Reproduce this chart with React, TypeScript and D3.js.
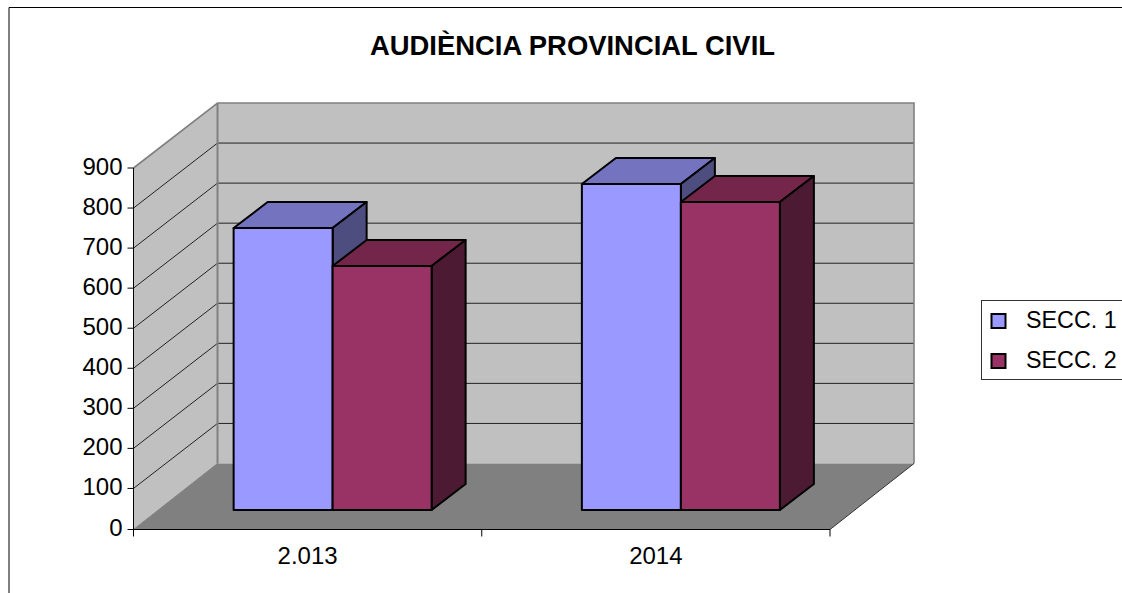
import React from "react";
import * as d3 from "d3";

const title = "AUDIÈNCIA PROVINCIAL CIVIL";
const categories = ["2.013", "2014"];
const seriesNames = ["SECC. 1", "SECC. 2"];
const secc1 = [705, 815];
const secc2 = [610, 770];
const ticks = [0, 100, 200, 300, 400, 500, 600, 700, 800, 900];
const front = ["#9999ff", "#993366"];
const topC = ["#7373bf", "#732649"];
const sideC = ["#4d4d80", "#4d1a33"];

const W = 1122, H = 593;
const x0 = 133.5, x1 = 830;
const depthX = 84;
const yAxis = d3.scaleLinear().domain([0, 900]).range([528.5, 168]);
const yBack = d3.scaleLinear().domain([0, 900]).range([463.5, 103]);
const yBar = d3.scaleLinear().domain([0, 900]).range([510, 150]);
const xCat = d3.scaleBand<string>().domain(categories).range([x0, x1]);
const barW = 99;
const barDX = 34, barDY = 26;
const font = "'Liberation Sans', Arial, sans-serif";
const poly = (p: number[][]) => p.map((q) => q.join(",")).join(" ");

function Bar({ x, v, i }: { x: number; v: number; i: number }) {
  const y = yBar(v), b = yBar(0), r = x + barW;
  const st = { stroke: "#000", strokeWidth: 2, strokeLinejoin: "round" as const };
  return (
    <g>
      <polygon points={poly([[x, y], [x + barDX, y - barDY], [r + barDX, y - barDY], [r, y]])} fill={topC[i]} {...st} />
      <polygon points={poly([[r, y], [r + barDX, y - barDY], [r + barDX, b - barDY], [r, b]])} fill={sideC[i]} {...st} />
      <rect x={x} y={y} width={barW} height={b - y} fill={front[i]} {...st} />
    </g>
  );
}

export default function App() {
  const yTop = yBack(900), yBot = yBack(0), yF = yAxis(0) + 1;
  const groupStart = (c: string) => xCat(c)! + xCat.bandwidth() / 2 - 74;
  return (
    <svg width={W} height={H} style={{ position: "fixed", left: 0, top: 0, background: "#fff" }} fontFamily={font}>
      <path d={`M9 ${H}V7.5H${W}`} fill="none" stroke="#000" strokeWidth={1} />
      <text x={572.5} y={54.5} textAnchor="middle" fontWeight="bold" fontSize={28.5} textLength={405} lengthAdjust="spacingAndGlyphs">{title}</text>

      {/* walls */}
      <polygon points={poly([[x0, yAxis(900)], [x0 + depthX, yTop], [x0 + depthX, yBot], [x0, yF]])} fill="#c0c0c0" />
      <rect x={x0 + depthX} y={yTop} width={x1 - x0} height={yBot - yTop} fill="#c0c0c0" />
      <polygon points={poly([[x0, yF], [x0 + depthX, yBot], [x1 + depthX, yBot], [x1, yF]])} fill="#808080" />
      {ticks.filter((t) => t > 0 && t < 900).map((t) => (
        <g key={t} stroke="#222" strokeWidth={1}>
          <line x1={x0} y1={yAxis(t)} x2={x0 + depthX} y2={yBack(t)} />
          <line x1={x0 + depthX} y1={yBack(t)} x2={x1 + depthX} y2={yBack(t)} />
        </g>
      ))}
      <path d={`M${x0} ${yAxis(900)}L${x0 + depthX} ${yTop}H${x1 + depthX}V${yBot}`} fill="none" stroke="#808080" strokeWidth={1.6} />
      <line x1={x0 + depthX} y1={yTop} x2={x0 + depthX} y2={yBot} stroke="#808080" strokeWidth={2} />
      <line x1={x0 + depthX} y1={yBot} x2={x0} y2={yF} stroke="#808080" strokeWidth={1} />
      <line x1={x1 + depthX} y1={yBot} x2={x1} y2={yF} stroke="#333" strokeWidth={1} />

      {/* axes */}
      <line x1={x0} y1={yAxis(900)} x2={x0} y2={yF} stroke="#000" />
      <line x1={x0} y1={yF} x2={x1} y2={yF} stroke="#000" />
      {ticks.map((t) => (
        <g key={t}>
          <line x1={x0 - 6} x2={x0} y1={t === 0 ? yF : yAxis(t)} y2={t === 0 ? yF : yAxis(t)} stroke="#000" />
          <text x={x0 - 11} y={(t === 0 ? yF : yAxis(t)) + 6.5} textAnchor="end" fontSize={24}>{t}</text>
        </g>
      ))}
      {[x0, xCat("2014")!, x1].map((x) => (
        <line key={x} x1={x} x2={x} y1={yF} y2={yF + 7} stroke="#000" />
      ))}
      {categories.map((c) => (
        <text key={c} x={xCat(c)! + xCat.bandwidth() / 2} y={564} textAnchor="middle" fontSize={24}>{c}</text>
      ))}

      {/* bars */}
      {categories.map((c, k) => (
        <g key={c}>
          <Bar x={groupStart(c)} v={secc1[k]} i={0} />
          <Bar x={groupStart(c) + barW} v={secc2[k]} i={1} />
        </g>
      ))}

      {/* legend */}
      <rect x={981.5} y={300.5} width={200} height={79} fill="#fff" stroke="#333" />
      {seriesNames.map((s, i) => (
        <g key={s}>
          <rect x={991.5} y={314 + i * 40} width={14} height={14} fill={front[i]} stroke="#000" strokeWidth={2} />
          <text x={1026} y={328 + i * 40} fontSize={23.3}>{s}</text>
        </g>
      ))}
    </svg>
  );
}
